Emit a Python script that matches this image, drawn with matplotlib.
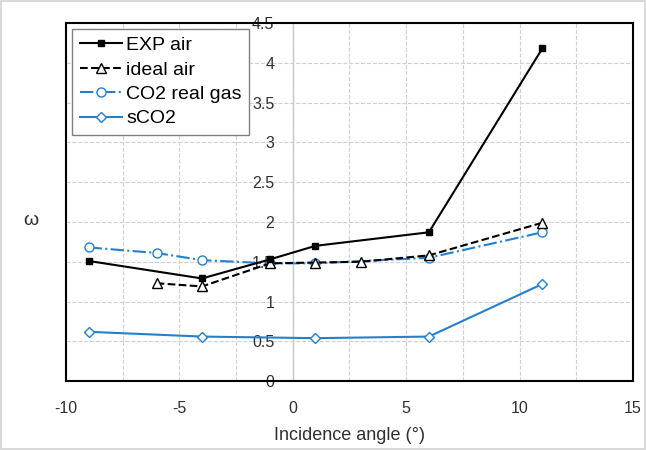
import numpy as np
import matplotlib.pyplot as plt

# data
exp_x = [-9, -4, -1, 1, 6, 11]
exp_y = [1.51, 1.29, 1.53, 1.70, 1.87, 4.18]

ideal_x = [-6, -4, -1, 1, 3, 6, 11]
ideal_y = [1.23, 1.19, 1.48, 1.49, 1.50, 1.58, 1.99]

co2_x = [-9, -6, -4, -1, 1, 6, 11]
co2_y = [1.68, 1.61, 1.52, 1.48, 1.48, 1.55, 1.87]

sco2_x = [-9, -4, 1, 6, 11]
sco2_y = [0.62, 0.56, 0.54, 0.56, 1.22]

blue = '#2480cc'

plt.rcParams['font.family'] = ['Liberation Sans', 'DejaVu Sans']
plt.rcParams['axes.unicode_minus'] = False

fig = plt.figure(figsize=(6.46, 4.5), dpi=100)
fig.patch.set_edgecolor('#d9d9d9')
fig.patch.set_linewidth(1.5)
ax = fig.add_axes([0.102, 0.153, 0.878, 0.796])

ax.plot(exp_x, exp_y, '-', color='black', lw=1.5, marker='s', ms=5,
        label='EXP air', zorder=5)
ax.plot(ideal_x, ideal_y, '--', color='black', lw=1.5, marker='^', ms=6.5,
        mfc='white', mew=1.0, label='ideal air', zorder=4)
ax.plot(co2_x, co2_y, '-.', color=blue, lw=1.5, marker='o', ms=6.5,
        mfc='white', mew=1.0, label='CO2 real gas', zorder=3)
ax.plot(sco2_x, sco2_y, '-', color=blue, lw=1.5, marker='D', ms=5.5,
        mfc='white', mew=1.0, label='sCO2', zorder=3)

ax.set_xlim(-10, 15)
ax.set_ylim(0, 4.5)
ax.set_xticks(np.arange(-10, 16, 5))
ax.set_xticks(np.arange(-7.5, 15, 2.5), minor=True)
ax.set_yticks(np.arange(0, 4.6, 0.5))
ax.set_yticklabels(['0', '0.5', '1', '1.5', '2', '2.5', '3', '3.5', '4', '4.5'])

ax.grid(True, which='both', axis='x', ls='--', color='#d0d0d0', lw=0.8)
ax.grid(True, which='major', axis='y', ls='--', color='#d0d0d0', lw=0.8)
ax.set_axisbelow(True)
ax.axvline(0, color='#c8c8c8', lw=1.0, zorder=1)

ax.tick_params(axis='both', which='both', length=0, labelsize=11.5, colors='#303030')
ax.tick_params(axis='x', pad=14)

# y tick labels sit just left of x = 0
ax.yaxis.set_tick_params(pad=-150)
for s in ax.spines.values():
    s.set_color('black')
    s.set_linewidth(1.5)

ax.set_xlabel('Incidence angle (°)', fontsize=13, color='#303030', labelpad=8)
fig.text(0.047, 0.51, 'ω', fontsize=14, color='#303030', ha='center', va='center')

leg = ax.legend(loc='upper left', fontsize=14, fancybox=False, framealpha=1,
                edgecolor='#808080', borderaxespad=0.3, handlelength=2.2,
                handletextpad=0.2, labelspacing=0.35, borderpad=0.4)
leg.get_frame().set_linewidth(1.0)

fig.savefig('out.png', dpi=100)
